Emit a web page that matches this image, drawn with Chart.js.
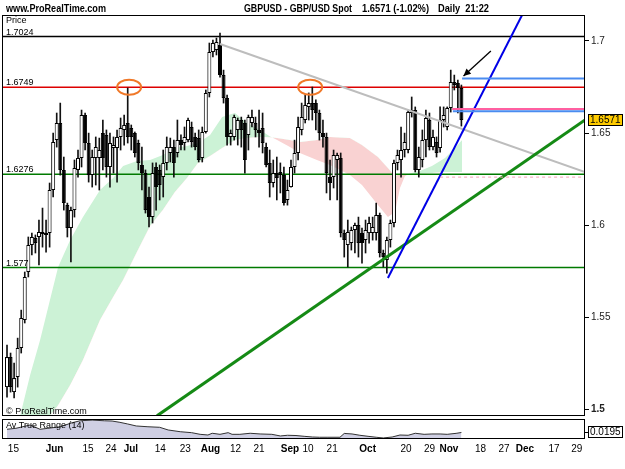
<!DOCTYPE html>
<html><head><meta charset="utf-8">
<script src="https://cdn.jsdelivr.net/npm/chart.js@4.4.1/dist/chart.umd.min.js"></script>
<style>html,body{margin:0;padding:0;background:#fff}canvas{display:block}</style>
</head><body>
<canvas id="c" width="625" height="469"></canvas>
<script>
// ---- candle data (daily GBPUSD), index 0 = first candle ----
const opens = [1.5121,1.5284,1.5094,1.5176,1.5333,1.5485,1.5746,1.5892,1.5930,1.5936,
 1.5952,1.5947,1.5957,1.6191,1.6462,1.6555,1.6300,1.6109,1.5985,1.6082,
 1.6300,1.6365,1.6598,1.6446,1.6272,1.6365,1.6365,1.6500,1.6490,1.6316,
 1.6419,1.6419,1.6479,1.6517,1.6555,1.6528,1.6500,1.6446,1.6327,1.6283,
 1.6153,1.6044,1.6316,1.6300,1.6261,1.6338,1.6392,1.6424,1.6392,1.6462,
 1.6446,1.6462,1.6533,1.6479,1.6473,1.6365,1.6506,1.6718,1.6940,1.6951,
 1.6978,1.6815,1.6690,1.6479,1.6479,1.6517,1.6571,1.6555,1.6490,1.6555,
 1.6555,1.6517,1.6528,1.6424,1.6338,1.6229,1.6283,1.6289,1.6272,1.6137,
 1.6207,1.6316,1.6392,1.6517,1.6571,1.6642,1.6663,1.6663,1.6609,1.6500,
 1.6479,1.6261,1.6261,1.6354,1.6365,1.5957,1.5892,1.5903,1.5974,1.6001,
 1.5957,1.5919,1.5957,1.5957,1.5957,1.6055,1.5849,1.5811,1.5919,1.6012,
 1.6338,1.6354,1.6408,1.6408,1.6609,1.6625,1.6300,1.6354,1.6462,1.6571,
 1.6424,1.6452,1.6419,1.6571,1.6533,1.6636,1.6777,1.6772,1.6745];
const highs = [1.5349,1.5306,1.5252,1.5387,1.5539,1.5746,1.5936,1.5957,1.5947,1.6028,
 1.6093,1.6028,1.6229,1.6500,1.6609,1.6663,1.6370,1.6120,1.6099,1.6354,
 1.6408,1.6625,1.6609,1.6500,1.6408,1.6479,1.6473,1.6571,1.6517,1.6500,
 1.6479,1.6517,1.6582,1.6598,1.6745,1.6544,1.6506,1.6462,1.6424,1.6300,
 1.6207,1.6338,1.6338,1.6327,1.6408,1.6479,1.6473,1.6462,1.6571,1.6490,
 1.6533,1.6582,1.6560,1.6500,1.6517,1.6533,1.6734,1.6989,1.7005,1.7016,
 1.7043,1.6842,1.6707,1.6517,1.6598,1.6582,1.6587,1.6571,1.6598,1.6625,
 1.6587,1.6625,1.6609,1.6446,1.6408,1.6354,1.6370,1.6338,1.6316,1.6245,
 1.6354,1.6462,1.6587,1.6663,1.6707,1.6718,1.6750,1.6680,1.6625,1.6571,
 1.6500,1.6354,1.6408,1.6392,1.6392,1.5974,1.6028,1.5990,1.6012,1.6044,
 1.5985,1.6028,1.6044,1.6044,1.6120,1.6066,1.5865,1.5936,1.6028,1.6354,
 1.6408,1.6533,1.6500,1.6625,1.6696,1.6642,1.6424,1.6517,1.6625,1.6609,
 1.6517,1.6479,1.6642,1.6642,1.6642,1.6842,1.6815,1.6788,1.6761];
const lows = [1.5067,1.5094,1.5062,1.5121,1.5306,1.5469,1.5719,1.5838,1.5849,1.5784,
 1.5881,1.5854,1.5881,1.6153,1.6424,1.6272,1.6082,1.5936,1.5800,1.6044,
 1.6261,1.6316,1.6408,1.6234,1.6207,1.6218,1.6191,1.6300,1.6261,1.6207,
 1.6283,1.6234,1.6408,1.6435,1.6446,1.6408,1.6370,1.6300,1.6191,1.6066,
 1.5990,1.6012,1.6082,1.6137,1.6153,1.6300,1.6343,1.6261,1.6370,1.6408,
 1.6408,1.6452,1.6424,1.6408,1.6343,1.6343,1.6500,1.6696,1.6913,1.6924,
 1.6804,1.6663,1.6435,1.6435,1.6462,1.6435,1.6424,1.6283,1.6408,1.6533,
 1.6479,1.6424,1.6392,1.6316,1.6153,1.6207,1.6137,1.6175,1.6109,1.6109,
 1.6207,1.6283,1.6354,1.6490,1.6555,1.6571,1.6571,1.6517,1.6462,1.6424,
 1.6175,1.6137,1.6202,1.6137,1.5936,1.5827,1.5773,1.5865,1.5849,1.5827,
 1.5794,1.5849,1.5903,1.5919,1.5919,1.5827,1.5773,1.5740,1.5881,1.5990,
 1.6300,1.6261,1.6370,1.6392,1.6587,1.6289,1.6261,1.6316,1.6370,1.6408,
 1.6408,1.6370,1.6397,1.6533,1.6517,1.6614,1.6734,1.6609,1.6538];
const closes = [1.5284,1.5121,1.5170,1.5333,1.5496,1.5719,1.5892,1.5936,1.5903,1.5963,
 1.5963,1.5957,1.6191,1.6452,1.6555,1.6300,1.6120,1.5985,1.6082,1.6310,
 1.6365,1.6598,1.6446,1.6272,1.6370,1.6424,1.6408,1.6365,1.6316,1.6446,
 1.6435,1.6479,1.6528,1.6544,1.6479,1.6479,1.6392,1.6338,1.6283,1.6082,
 1.6044,1.6283,1.6207,1.6218,1.6338,1.6424,1.6424,1.6338,1.6462,1.6435,
 1.6479,1.6571,1.6452,1.6424,1.6354,1.6506,1.6718,1.6940,1.6989,1.6995,
 1.6815,1.6690,1.6479,1.6500,1.6587,1.6571,1.6517,1.6354,1.6587,1.6587,
 1.6517,1.6500,1.6446,1.6327,1.6229,1.6283,1.6256,1.6272,1.6120,1.6191,
 1.6316,1.6392,1.6533,1.6587,1.6652,1.6663,1.6625,1.6609,1.6500,1.6479,
 1.6283,1.6229,1.6381,1.6381,1.5957,1.5919,1.5963,1.5974,1.6001,1.5903,
 1.5903,1.5974,1.6012,1.5990,1.6055,1.5849,1.5827,1.5919,1.6012,1.6338,
 1.6381,1.6408,1.6452,1.6614,1.6625,1.6300,1.6370,1.6462,1.6582,1.6424,
 1.6479,1.6392,1.6571,1.6598,1.6636,1.6777,1.6761,1.6745,1.6571];

// ---- cloud (two spans) ----
const cloudIdx = [3.7,6.5,9.3,12.1,14.4,17.8,21.4,26.2,29.9,32.7,36.6,40.3,43.9,47.3,50.7,53.8,57.2,60.6,64.2,67.6,
 71.3,74.1,76.1,79.7,82.5,87.3,91.0,96.6,100.0,104.5,107.3,109.3,110.7,112.1,113.5,116.3,119.7,123.4,126.2,128.2];
const cloudA = [1.4965,1.5186,1.5376,1.5594,1.5773,1.5919,1.6044,1.6191,1.6256,1.6321,1.6348,1.6354,1.6381,1.6419,1.6430,1.6446,1.6490,1.6587,1.6609,1.6555,
 1.6517,1.6482,1.6462,1.6424,1.6392,1.6354,1.6327,1.6272,1.6218,1.6109,1.6044,1.6071,1.6202,1.6267,1.6281,1.6294,1.6321,1.6365,1.6419,1.6462];
const cloudB = [1.4965,1.4965,1.4965,1.4965,1.5023,1.5132,1.5268,1.5485,1.5610,1.5702,1.5854,1.5995,1.6082,1.6180,1.6256,1.6338,1.6376,1.6419,1.6462,1.6473,
 1.6479,1.6478,1.6473,1.6462,1.6452,1.6462,1.6479,1.6473,1.6435,1.6370,1.6310,1.6267,1.6278,1.6275,1.6275,1.6278,1.6283,1.6289,1.6289,1.6289];

// ---- Average True Range (14) ----
const atrIdx = [0,2.5,6.5,9.3,11.5,15,18.3,20.6,24,27.4,29.6,31.8,34,36.4,39.7,43,45.4,48.8,52,54.4,
 56.6,57.8,60,62.3,63.4,65.6,68.5,71.3,74.6,77,79,81.4,83.7,86,88,90.4,93.8,95,97.2,99.4,
 101.7,104,106,108.5,110.7,113,115,117.5,119.7,122,124,126.5,128];
const atrVals = [0.0232,0.0243,0.0281,0.0232,0.0243,0.0261,0.0307,0.0330,0.0338,0.0330,0.0327,0.0312,0.0293,0.0270,0.0261,0.0255,0.0224,0.0204,0.0193,0.0174,
 0.0166,0.0186,0.0174,0.0193,0.0174,0.0174,0.0186,0.0178,0.0174,0.0155,0.0163,0.0160,0.0151,0.0143,0.0140,0.0140,0.0140,0.0184,0.0178,0.0163,
 0.0151,0.0140,0.0132,0.0143,0.0166,0.0163,0.0186,0.0174,0.0178,0.0178,0.0174,0.0185,0.0195];

// ---- horizontal levels ----
const levels = [1.7024, 1.6749, 1.6276, 1.577];
const levelLabels = ['1.7024', '1.6749', '1.6276', '1.577'];

// ---- trend lines [index, price] ----
const grayLine  = [[60, 1.6984], [162.82, 1.6289]];
const blueLine  = [[107.3, 1.5713], [145.1, 1.7141]];
const greenLine = [[42.25, 1.4965], [162.82, 1.6571]];

// ---- short marker lines (start index, price) ----
const markFrom = [128.2, 125.6, 125.4, 122.0];
const markPrice = [1.6797, 1.6618, 1.6631, 1.6261];

// ---- annotations ----
const circleIdx = [34.4, 85.4];
const circlePrice = 1.6749;
const arrowFrom = [136.3, 1.6946];
const arrowTo = [128.6, 1.6810];

// ---- axis ticks ----
const tickIdx = [1.8,13.4,22.8,29.3,34.9,43.2,50.2,57.3,64.4,71.0,79.7,84.8,91.6,101.6,112.4,119.0,124.5,133.4,140.0,145.9,154.1,160.5];
const tickLabels = ['15','Jun','15','24','Jul','14','23','Aug','12','21','Sep','10','21','Oct','20','29','Nov','18','27','Dec','17','29'];
const priceTicks = [1.5, 1.55, 1.6, 1.65, 1.7];
const monthNames = ['Jun','Jul','Aug','Sep','Oct','Nov','Dec'];

const FONT = "'Liberation Sans', Arial, sans-serif";
const N = opens.length;
const xMin = -1.13, xMax = 162.82;
const yMin = 1.49642, yMax = 1.71411;
const atrMin = 0.012, atrMax = 0.0385;

const wickData = opens.map((o, i) => ({x: i, y: [lows[i], highs[i]]}));
const bodyData = opens.map((o, i) => ({x: i, y: [Math.min(o, closes[i]), Math.max(o, closes[i])]}));
const bodyColors = opens.map((o, i) => closes[i] >= o ? '#ffffff' : '#000000');

const datasets = [];
datasets.push({type: 'line', data: cloudIdx.map((x, i) => ({x, y: cloudA[i]})), yAxisID: 'y',
  borderColor: 'rgba(0,0,0,0)', borderWidth: 0, pointRadius: 0, tension: 0,
  fill: {target: 1, above: '#ccf2d6', below: '#f9d2d2'}, order: 30});
datasets.push({type: 'line', data: cloudIdx.map((x, i) => ({x, y: cloudB[i]})), yAxisID: 'y',
  borderColor: 'rgba(0,0,0,0)', borderWidth: 0, pointRadius: 0, tension: 0, fill: false, order: 31});
datasets.push({type: 'line', data: atrIdx.map((x, i) => ({x, y: atrVals[i]})), yAxisID: 'yAtr',
  borderColor: '#333333', borderWidth: 1, backgroundColor: '#cfcfe3', fill: 'start', pointRadius: 0, tension: 0, order: 30});
const levelColors = ['#000000', '#dd0000', '#007a00', '#007a00'];
levels.forEach((v, i) => datasets.push({type: 'line', data: [{x: xMin, y: v}, {x: xMax, y: v}], yAxisID: 'y',
  borderColor: levelColors[i], borderWidth: 1.5, pointRadius: 0, fill: false, order: 20}));
datasets.push({type: 'bar', data: wickData, yAxisID: 'y', backgroundColor: '#111', barThickness: 1, grouped: false, order: 12});
datasets.push({type: 'bar', data: bodyData, yAxisID: 'y', backgroundColor: bodyColors, borderColor: '#000', borderWidth: 1,
  borderSkipped: false, barThickness: 4, grouped: false, inflateAmount: 0, order: 11});
const toPts = arr => arr.map(p => ({x: p[0], y: p[1]}));
datasets.push({type: 'line', data: toPts(grayLine), yAxisID: 'y', borderColor: '#bdbdbd', borderWidth: 2, pointRadius: 0, fill: false, order: 8});
datasets.push({type: 'line', data: toPts(greenLine), yAxisID: 'y', borderColor: '#158a15', borderWidth: 3, pointRadius: 0, fill: false, order: 7});
datasets.push({type: 'line', data: toPts(blueLine), yAxisID: 'y', borderColor: '#0000e6', borderWidth: 2, pointRadius: 0, fill: false, order: 6});
const markColors = ['#4a8cf0', '#4a8cf0', '#ff5fa0', '#f4a0b4'];
const markWidths = [2, 2, 2, 1];
const markDash = [[], [], [], [3, 3]];
markFrom.forEach((f, i) => datasets.push({type: 'line', data: [{x: f, y: markPrice[i]}, {x: xMax, y: markPrice[i]}], yAxisID: 'y',
  borderColor: markColors[i], borderWidth: markWidths[i], borderDash: markDash[i], pointRadius: 0, fill: false, order: 5}));

const decor = {
  id: 'decor',
  beforeDraw(chart) {
    const c = chart.ctx; c.save(); c.fillStyle = '#fff'; c.fillRect(0, 0, chart.width, chart.height); c.restore();
  },
  afterDatasetsDraw(chart) {
    const {ctx, scales: {x, y}} = chart;
    ctx.save();
    ctx.strokeStyle = '#f07828'; ctx.lineWidth = 2;
    circleIdx.forEach(ci => {
      ctx.beginPath();
      ctx.ellipse(x.getPixelForValue(ci), y.getPixelForValue(circlePrice), 12, 7.5, 0, 0, Math.PI * 2);
      ctx.stroke();
    });
    const x1 = x.getPixelForValue(arrowFrom[0]), y1 = y.getPixelForValue(arrowFrom[1]);
    const x2 = x.getPixelForValue(arrowTo[0]), y2 = y.getPixelForValue(arrowTo[1]);
    ctx.strokeStyle = '#000'; ctx.fillStyle = '#000'; ctx.lineWidth = 1.3;
    ctx.beginPath(); ctx.moveTo(x1, y1); ctx.lineTo(x2, y2); ctx.stroke();
    const ang = Math.atan2(y2 - y1, x2 - x1);
    ctx.beginPath();
    ctx.moveTo(x2, y2);
    ctx.lineTo(x2 - 8 * Math.cos(ang - 0.45), y2 - 8 * Math.sin(ang - 0.45));
    ctx.lineTo(x2 - 8 * Math.cos(ang + 0.45), y2 - 8 * Math.sin(ang + 0.45));
    ctx.closePath(); ctx.fill();
    ctx.restore();
  },
  afterDraw(chart) {
    const {ctx, chartArea: ca, scales: {x, y, yAtr}} = chart;
    ctx.save();
    const yb = y.bottom;
    ctx.fillStyle = '#fff';
    ctx.fillRect(ca.left - 1, yb, ca.right - ca.left + 2, 3);
    ctx.strokeStyle = '#000'; ctx.lineWidth = 1;
    ctx.strokeRect(ca.left - 0.5, ca.top + 0.5, ca.right - ca.left, Math.round(yb - ca.top) - 1);
    ctx.strokeRect(ca.left - 0.5, Math.round(yb) + 3.5, ca.right - ca.left, Math.round(ca.bottom - yb) - 4);
    // header
    ctx.fillStyle = '#000';
    ctx.textBaseline = 'alphabetic';
    ctx.font = 'bold 10px ' + FONT;
    ctx.fillText('www.ProRealTime.com', 6, 12, 100);
    ctx.fillText('GBPUSD - GBP/USD Spot', 244, 12, 108);
    ctx.fillText('1.6571 (-1.02%)', 362, 12, 67);
    ctx.fillText('Daily  21:22', 438, 12, 51);
    // panel labels
    ctx.font = '9px ' + FONT;
    ctx.fillText('Price', 6, 23);
    levels.forEach((v, i) => ctx.fillText(levelLabels[i], 6, y.getPixelForValue(v) - 2));
    ctx.fillText('\u00A9 ProRealTime.com', 6, 414);
    ctx.fillText('Av True Range (14)', 6, Math.round(yb) + 12);
    // last price box
    const lastC = closes[N - 1];
    const py = Math.round(y.getPixelForValue(lastC));
    ctx.fillStyle = '#ffcc00';
    ctx.fillRect(588, py - 6, 35, 12);
    ctx.strokeRect(588.5, py - 5.5, 34, 11);
    ctx.fillStyle = '#000'; ctx.font = '10px ' + FONT; ctx.textBaseline = 'middle';
    ctx.fillText(lastC.toFixed(4), 590, py + 0.5);
    // ATR box
    const lastA = atrVals[atrVals.length - 1];
    const pa = Math.round(yAtr.getPixelForValue(lastA));
    ctx.beginPath(); ctx.moveTo(ca.right, pa + 0.5); ctx.lineTo(ca.right + 4, pa + 0.5); ctx.stroke();
    ctx.fillStyle = '#fff'; ctx.fillRect(588, pa - 6, 35, 12);
    ctx.strokeRect(588.5, pa - 5.5, 34, 11);
    ctx.fillStyle = '#000';
    ctx.fillText(lastA.toFixed(4), 590, pa + 0.5);
    ctx.restore();
  }
};

new Chart(document.getElementById('c'), {
  type: 'line',
  data: {datasets},
  plugins: [decor],
  options: {
    responsive: false, animation: false, devicePixelRatio: 1,
    layout: {padding: {top: 15, left: 3, right: 0, bottom: 0}},
    plugins: {legend: {display: false}, tooltip: {enabled: false}},
    elements: {line: {tension: 0}},
    scales: {
      x: {
        type: 'linear', min: xMin, max: xMax, offset: false, position: 'bottom',
        afterFit(s) { s.height = 30; },
        afterBuildTicks(s) { s.ticks = tickIdx.map(v => ({value: v})); },
        grid: {display: false, drawTicks: false}, border: {display: false},
        ticks: {autoSkip: false, maxRotation: 0, minRotation: 0, padding: 4, color: '#000',
          callback: (v, i) => tickLabels[i],
          font: c => ({family: FONT, size: 10, weight: monthNames.includes(tickLabels[c.index]) ? 'bold' : 'normal'})}
      },
      y: {
        type: 'linear', position: 'right', stack: 'panes', stackWeight: 401, min: yMin, max: yMax,
        afterFit(s) { s.width = 40; },
        afterBuildTicks(s) { s.ticks = priceTicks.map(v => ({value: v})); },
        grid: {drawOnChartArea: false, drawTicks: true, tickLength: 4, color: '#000'}, border: {display: false},
        ticks: {padding: 2, color: '#222', callback: v => String(v),
          font: c => ({family: FONT, size: 10, weight: (c.tick && c.tick.value === 1.5) ? 'bold' : 'normal'})}
      },
      yAtr: {
        type: 'linear', position: 'right', stack: 'panes', stackWeight: 23, min: atrMin, max: atrMax,
        afterFit(s) { s.width = 40; },
        grid: {display: false}, border: {display: false}, ticks: {display: false}
      }
    }
  }
});
</script>
</body></html>
